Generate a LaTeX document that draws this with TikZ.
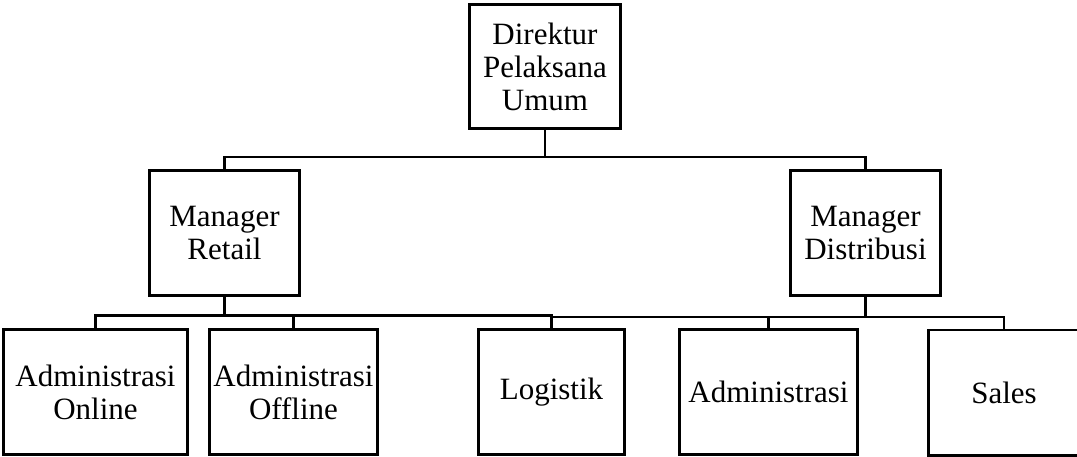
\documentclass[tikz,border=0pt]{standalone}
\usepackage{fontspec}
\setmainfont{Liberation Serif}
\usepackage{tikz}
\usetikzlibrary{calc}

\begin{document}
\begin{tikzpicture}[x=1pt, y=-1pt, line width=2.6pt,
    orgbox/.style={draw, align=center, inner sep=0pt,
        font=\fontsize{31}{33}\selectfont,
        minimum height=125.4pt}]
\useasboundingbox (0,0) rectangle (1077,457);
% top level
\node[orgbox, minimum width=151.4pt, minimum height=124.4pt] (dir) at (545,66.5)
    {Direktur\\Pelaksana\\Umum};
% managers
\node[orgbox, minimum width=150.4pt] (mr) at (224.5,233) {Manager\\Retail};
\node[orgbox, minimum width=150.4pt] (md) at (865.5,233) {Manager\\Distribusi};
% staff
\node[orgbox, minimum width=184.4pt] (aon) at (95.5,392) {Administrasi\\Online};
\node[orgbox, minimum width=168.4pt] (aoff) at (293.5,392) {Administrasi\\Offline};
\node[orgbox, minimum width=146.4pt] (log) at (551.5,392) {Logistik};
\node[orgbox, minimum width=178.4pt] (adm) at (768.5,392) {Administrasi};
\node[orgbox, minimum width=151.4pt] (sales) at (1004,392.5) {Sales};
% bus levels
\coordinate (bus1) at (0,157);
\coordinate (bus2) at (0,315.5);
\coordinate (bus3) at (0,317);
% connectors
\draw (dir.south) -- (dir.south |- bus1);
\draw (mr.north) |- (bus1 -| md.north) -- (md.north);
\draw (mr.south) -- (mr.south |- bus2);
\draw (aon.north) |- (bus2 -| log.north) -- (log.north);
\draw (aoff.north) -- (aoff.north |- bus2);
\draw (md.south) -- (md.south |- bus3);
\draw (log.north) |- (bus3 -| sales.north) -- (sales.north);
\draw (adm.north) -- (adm.north |- bus3);
\end{tikzpicture}
\end{document}
